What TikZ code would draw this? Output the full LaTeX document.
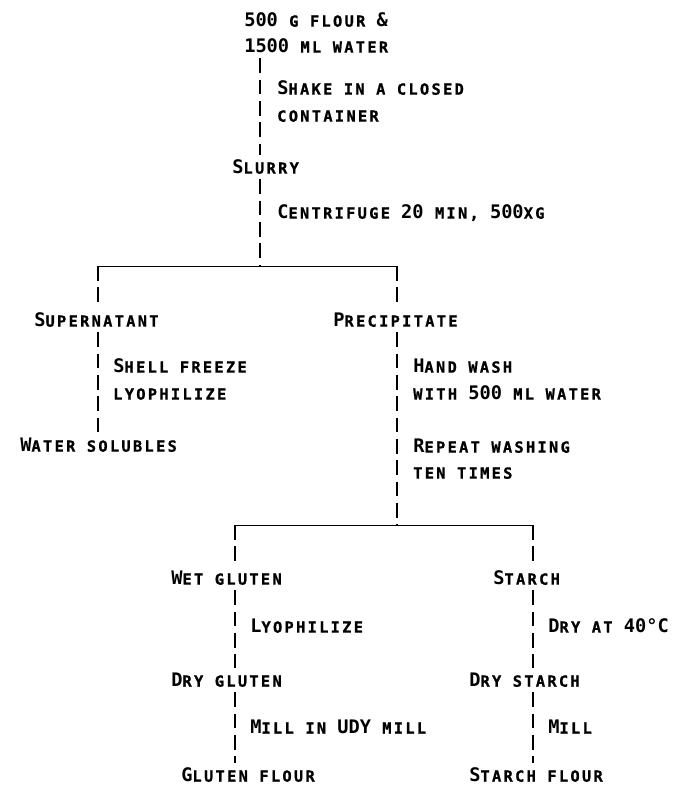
\documentclass[tikz,border=0pt]{standalone}
\usepackage{fontspec}
\setmainfont{DejaVu Sans Mono}
\newfontfamily\smallcapsfont{DejaVu Sans Mono Bold}[LetterSpace=15,FakeBold=1]
\newcommand\sm[1]{{\smallcapsfont\fontsize{11.5}{13}\selectfont\MakeUppercase{#1}}}
\usetikzlibrary{calc}

\begin{document}
\begin{tikzpicture}[x=0.75pt,y=0.75pt,yscale=-1,xscale=1,
		lab/.style={anchor=west, inner xsep=0pt, inner ysep=4pt, font=\fontsize{14}{16}\selectfont\bfseries, text height=10pt, text depth=0pt},
		stem/.style={line width=0.9pt, dash pattern=on 11pt off 5pt},
		bar/.style={line width=0.7pt}]
		\useasboundingbox (0,0) rectangle (676,787);

		% junctions
		\coordinate (j1) at (260,266);
		\coordinate (j1l) at (98,266);
		\coordinate (j1r) at (397,266);
		\coordinate (j2) at (397,525);
		\coordinate (j2l) at (235,525);
		\coordinate (j2r) at (533,525);

		% products
		\node [lab] (flour) at (244,20) {500 \sm{g flour} \&};
		\node [lab] (water) at (244,46) {1500 \sm{ml water}};
		\node [lab] (slurry) at (232,167) {S\sm{lurry}};
		\node [lab] (super) at (34,320) {S\sm{upernatant}};
		\node [lab] (precip) at (333,320) {P\sm{recipitate}};
		\node [lab] (solub) at (20,445) {W\sm{ater solubles}};
		\node [lab] (wet) at (171,578) {W\sm{et gluten}};
		\node [lab] (drygl) at (171,680) {D\sm{ry gluten}};
		\node [lab] (glfl) at (181,775) {G\sm{luten flour}};
		\node [lab] (starch) at (493,578) {S\sm{tarch}};
		\node [lab] (dryst) at (469,680) {D\sm{ry starch}};
		\node [lab] (stfl) at (469,775) {S\sm{tarch flour}};

		% steps
		\node [lab] (shake) at (277,88) {S\sm{hake in a closed}};
		\node [lab] (cont) at (277,115) {\sm{container}};
		\node [lab] (centr) at (277,212) {C\sm{entrifuge} 20 \sm{min,} 500\sm{xg}};
		\node [lab] (shell) at (113,366) {S\sm{hell freeze}};
		\node [lab] (lyoa) at (113,393) {\sm{lyophilize}};
		\node [lab] (hand) at (413,366) {H\sm{and wash}};
		\node [lab] (with) at (413,393) {\sm{with} 500 \sm{ml water}};
		\node [lab] (repeat) at (413,446) {R\sm{epeat washing}};
		\node [lab] (ten) at (413,472) {\sm{ten times}};
		\node [lab] (lyob) at (250,626) {L\sm{yophilize}};
		\node [lab] (mill) at (250,727) {M\sm{ill in} UDY \sm{mill}};
		\node [lab] (dryat) at (548,626) {D\sm{ry at} 40°C};
		\node [lab] (millb) at (548,727) {M\sm{ill}};

		% connectors
		\draw [stem] (water.south -| j1) -- (slurry.north -| j1);
		\draw [stem] (slurry.south -| j1) -- (j1);
		\draw [bar] (j1l) -- (j1r);
		\draw [stem] (j1l) -- (super.north -| j1l);
		\draw [stem] (j1r) -- (precip.north -| j1r);
		\draw [stem] (super.south -| j1l) -- (solub.north -| j1l);
		\draw [stem] (precip.south -| j1r) -- (j2);
		\draw [bar] (j2l) -- (j2r);
		\draw [stem] (j2l) -- (wet.north -| j2l);
		\draw [stem] (wet.south -| j2l) -- (drygl.north -| j2l);
		\draw [stem] (drygl.south -| j2l) -- (glfl.north -| j2l);
		\draw [stem] (j2r) -- (starch.north -| j2r);
		\draw [stem] (starch.south -| j2r) -- (dryst.north -| j2r);
		\draw [stem] (dryst.south -| j2r) -- (stfl.north -| j2r);
\end{tikzpicture}
\end{document}
